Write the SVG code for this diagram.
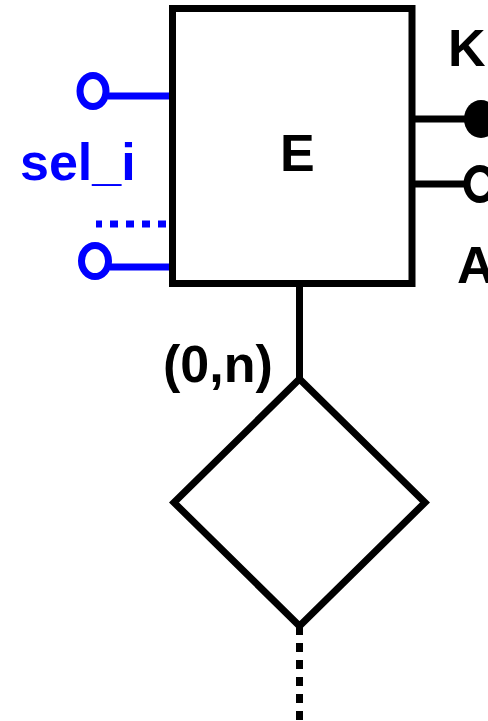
<svg xmlns="http://www.w3.org/2000/svg" width="488" height="721" viewBox="0 0 488 721">
<style>
.k{stroke:#000;stroke-width:7;fill:none}
.b{stroke:#0000ff;stroke-width:7;fill:none}
.t{font-family:"Liberation Sans",Arial,sans-serif;font-weight:bold;font-size:52px}
</style>
<rect width="488" height="721" fill="#fff"/>
<g id="connectors">
  <line class="b" x1="108" y1="96" x2="172" y2="96"/>
  <line class="b" x1="96" y1="224" x2="166" y2="224" stroke-dasharray="8,8" stroke-dashoffset="2"/>
  <line class="b" x1="110" y1="267" x2="172" y2="267"/>
  <line class="k" x1="412" y1="119" x2="468" y2="119"/>
  <line class="k" x1="412" y1="184" x2="466" y2="184"/>
  <line class="k" x1="299.5" y1="284" x2="299.5" y2="379"/>
  <line class="k" x1="299.5" y1="626" x2="299.5" y2="721" stroke-dasharray="9,8"/>
</g>
<g id="E">
  <rect class="k" x="172.5" y="8.5" width="239.5" height="275" fill="#fff"/>
  <text class="t" x="280" y="171">E</text>
</g>
<g id="rel">
  <polygon class="k" points="299.5,379 425,502.5 299.5,626 174,502.5" fill="#fff"/>
  <text class="t" x="163" y="382">(0,n)</text>
</g>
<g id="attrK">
  <ellipse cx="481" cy="119" rx="17" ry="19" fill="#000"/>
  <text class="t" x="448" y="66">K</text>
</g>
<g id="attrA">
  <ellipse class="k" cx="480" cy="184" rx="13" ry="15.5"/>
  <text class="t" x="457" y="283">A</text>
</g>
<g id="sel">
  <ellipse class="b" cx="93" cy="91" rx="13" ry="15.5"/>
  <ellipse class="b" cx="95" cy="261" rx="13.5" ry="15.5"/>
  <text class="t" x="20" y="180" fill="#0000ff">sel_i</text>
</g>
</svg>
